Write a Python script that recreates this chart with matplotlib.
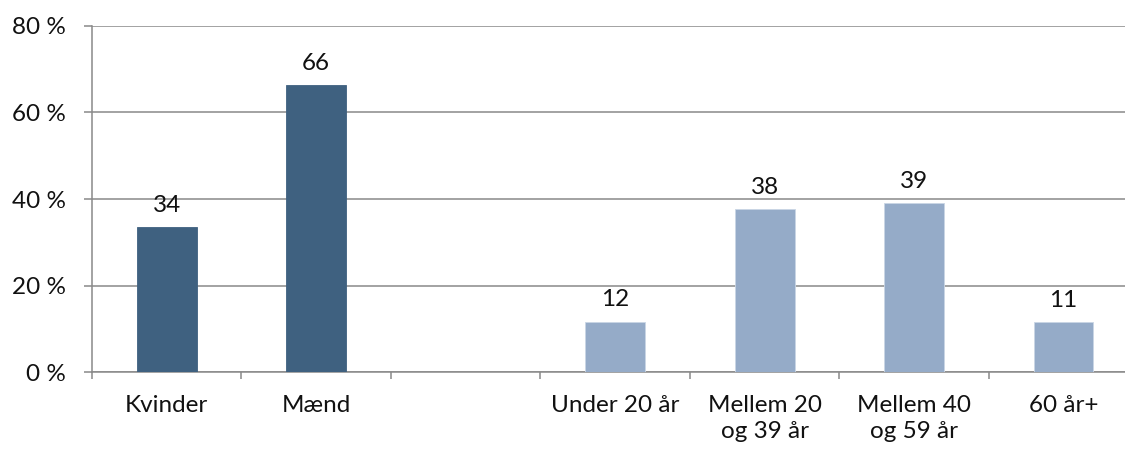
import matplotlib.pyplot as plt
import numpy as np

# data; the empty slot separates gender from age groups
categories = ['Kvinder', 'Mænd', '', 'Under 20 år', 'Mellem 20\nog 39 år',
              'Mellem 40\nog 59 år', '60 år+']
values = [33.5, 66.4, None, 11.7, 37.6, 39.0, 11.5]
value_labels = ['34', '66', '', '12', '38', '39', '11']
bar_colors = ['#3f6180', '#3f6180', None, '#95abc8', '#95abc8', '#95abc8', '#95abc8']
y_ticks = [0, 20, 40, 60, 80]

plt.rcParams['font.family'] = ['Lato', 'DejaVu Sans']
grey = '#898989'
fs = 17.5

fig = plt.figure(figsize=(11.25, 4.5), dpi=100)
ax = fig.add_axes([0.0818, 0.1727, 0.930, 0.770])

x = np.arange(len(categories))
for i, (v, c, lab) in enumerate(zip(values, bar_colors, value_labels)):
    if v is None:
        continue
    ec = '#c9d6e5' if c == '#95abc8' else c
    ax.bar(x[i], v, width=0.40, color=c, edgecolor=ec, linewidth=0.6, zorder=3)
    ax.annotate(lab, (x[i], v), xytext=(0, 8), textcoords='offset points',
                ha='center', va='bottom', fontsize=fs, color='#111111')

ax.set_xlim(-0.5, len(categories) - 0.5)
ax.set_ylim(0, 80)
ax.set_yticks(y_ticks)
ax.set_yticklabels([f'{t} %' for t in y_ticks])
ax.yaxis.grid(True, color=grey, linewidth=1.1, zorder=0)

# category labels centred, tick marks at slot boundaries
ax.set_xticks(x)
ax.set_xticklabels(categories, fontsize=fs, linespacing=1.3, color='#111111')
ax.tick_params(axis='x', length=0, pad=16)
ax.set_xticks(np.arange(len(categories) + 1) - 0.5, minor=True)
ax.tick_params(axis='x', which='minor', length=5, width=1.1, color=grey)
ax.tick_params(axis='y', length=6, width=1.1, color=grey, pad=13,
               labelsize=fs, labelcolor='#111111')

for s in ['top', 'right']:
    ax.spines[s].set_visible(False)
for s in ['left', 'bottom']:
    ax.spines[s].set_color(grey)
    ax.spines[s].set_linewidth(1.1)

fig.savefig('out.png', dpi=100)
